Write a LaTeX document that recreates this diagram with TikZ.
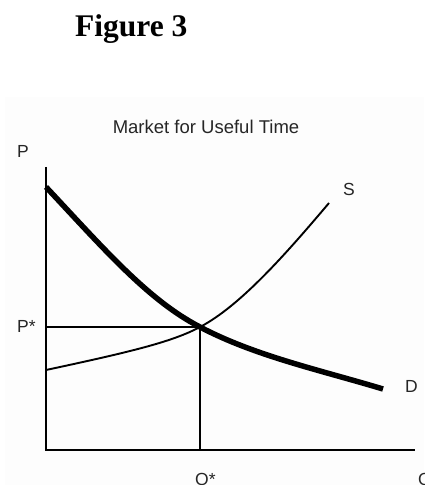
\documentclass[tikz,border=0pt]{standalone}
\usepackage{fontspec}
\setmainfont{Liberation Serif}
\setsansfont{Liberation Sans}
\begin{document}
\begin{tikzpicture}[x=1bp,y=-1bp,
  lbl/.style={inner sep=0pt,anchor=base west,font=\sffamily\fontsize{17.5bp}{20bp}\selectfont,text=black!85},
  axisline/.style={line width=1.9bp,black},
  guide/.style={line width=1.7bp,black},
  supply/.style={line width=1.9bp,black},
  demand/.style={line width=5.5bp,black}]
\useasboundingbox (0,0) rectangle (424,485);
\fill[black!0.6] (5,97) rectangle (424,485);
% title
\node[inner sep=0pt,anchor=base west,font=\rmfamily\bfseries\fontsize{31.5bp}{36bp}\selectfont] (fig) at (75,37) {Figure 3};
\node[inner sep=0pt,anchor=base,font=\sffamily\fontsize{18.5bp}{22bp}\selectfont,text=black!85] (title) at (206,134) {Market for Useful Time};
% coordinates
\coordinate (top) at (46,167);
\coordinate (O) at (46,450);
\coordinate (right) at (415,450);
\coordinate (E) at (200,327);
\coordinate (Ey) at (46,327);
\coordinate (Ex) at (200,450);
\coordinate (S0) at (46,370);
\coordinate (S1) at (329,203);
\coordinate (D0) at (46,187);
\coordinate (D1) at (383,389);
% axes
\draw[axisline] (top) -- (O) -- (right);
% guides
\draw[guide] (Ey) -- (E) -- (Ex);
% supply
\draw[supply] (S0) .. controls (130,352) and (172,342) .. (E) .. controls (240,306) and (285,255) .. (S1);
% demand
\draw[demand,line cap=butt] (D0) .. controls (105,250) and (148,300) .. (E) .. controls (255,356) and (320,370) .. (D1);
% labels
\node[lbl] (P) at (17,158) {P};
\node[lbl] (Pstar) at (17,332) {P*};
\node[lbl] (S) at (343,195) {S};
\node[lbl] (D) at (405,392) {D};
\node[lbl] (Qstar) at (195,485) {Q*};
\node[lbl] (Q) at (418,485) {Q};
\end{tikzpicture}
\end{document}
